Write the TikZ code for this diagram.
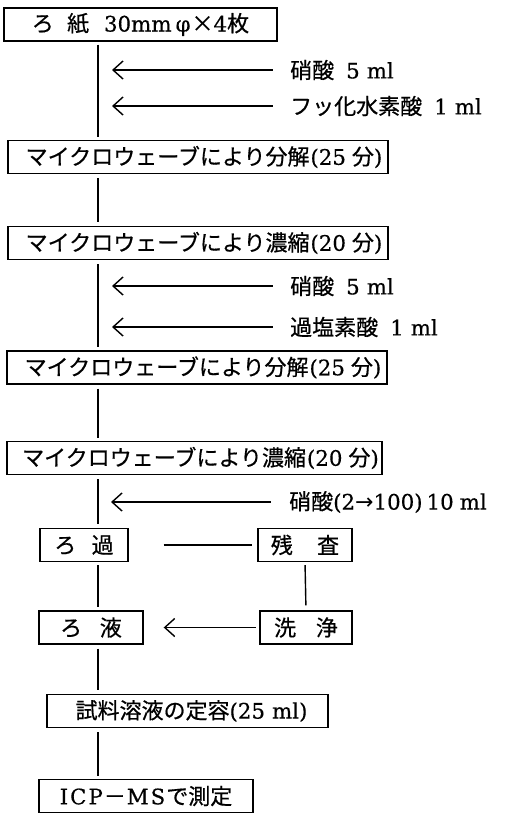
\documentclass[tikz,border=0pt]{standalone}
\usepackage{fontspec}
\setmainfont{DejaVu Serif}[Scale=0.97,FakeBold=0.4]
\newfontfamily\jp{Noto Sans CJK JP}[FakeBold=0.6]
\newfontfamily\dvs{DejaVu Sans}
\usetikzlibrary{arrows.meta}
\begin{document}
\begin{tikzpicture}[x=1pt,y=-1pt,
  box/.style={draw, line width=1.4pt, inner sep=0pt, minimum height=33pt, font=\fontsize{22}{22}\selectfont},
  lbl/.style={anchor=west, inner sep=0pt, font=\fontsize{22}{22}\selectfont},
  link/.style={line width=1.4pt},
  feed/.style={line width=1.4pt, {Straight Barb[length=10pt,width=18pt,line width=1.4pt]}-}]
\useasboundingbox (0,0) rectangle (507,814);
\coordinate (sp) at (98,0);
% boxes
\node[box, minimum width=273pt] (b1) at (140.5,24.5) {{\jp ろ\hspace{0.6em}紙}\hspace{0.7em}30mm\kern4pt φ\kern1pt{\jp ×}4{\jp 枚}};
\node[box, minimum width=380pt] (b2) at (198,157) {\kern12pt{\jp マイクロウェーブにより分解}\kern1pt(25\kern6pt{\jp 分})};
\node[box, minimum width=380pt] (b3) at (198,243) {\kern12pt{\jp マイクロウェーブにより濃縮}\kern1pt(20\kern6pt{\jp 分})};
\node[box, minimum width=380pt] (b4) at (197,367.5) {\kern12pt{\jp マイクロウェーブにより分解}\kern1pt(25\kern6pt{\jp 分})};
\node[box, minimum width=375pt] (b5) at (194.5,458) {\kern12pt{\jp マイクロウェーブにより濃縮}\kern1pt(20\kern6pt{\jp 分})};
\node[box, minimum width=88pt] (rk) at (84,545) {{\jp ろ\hspace{0.7em}過}};
\node[box, minimum width=94pt] (zs) at (305,545) {{\jp 残\hspace{1.1em}査}};
\node[box, minimum width=104pt] (re) at (91,627.5) {{\jp ろ\hspace{0.8em}液}};
\node[box, minimum width=92pt] (sj) at (306,627.5) {{\jp 洗\hspace{0.9em}浄}};
\node[box, minimum width=281pt] (tk) at (187.5,711) {\kern8pt{\jp 試料溶液の定容}(25\kern7pt ml)};
\node[box, minimum width=214pt] (icp) at (146,796) {I\kern2pt C\kern2pt P\kern1pt{\jp －}\kern1pt M\kern2pt S\kern1pt{\jp で測定}};
% spine
\draw[link, shorten <=3pt, shorten >=3pt] (b1.south -| sp) -- (b2.north -| sp);
\draw[link, shorten <=4pt, shorten >=4pt] (b2.south -| sp) -- (b3.north -| sp);
\draw[link, shorten <=4pt, shorten >=3pt] (b3.south -| sp) -- (b4.north -| sp);
\draw[link, shorten <=4pt, shorten >=3pt] (b4.south -| sp) -- (b5.north -| sp);
\draw[link, shorten <=4pt, shorten >=4pt] (b5.south -| sp) -- (rk.north -| sp);
\draw[link, shorten <=3pt, shorten >=3pt] (rk.south -| sp) -- (re.north -| sp);
\draw[link, shorten <=4pt, shorten >=4pt] (re.south -| sp) -- (tk.north -| sp);
\draw[link, shorten <=4pt, shorten >=3pt] (tk.south -| sp) -- (icp.north -| sp);
% side inputs
\node[lbl] (l1) at (290,70) {{\jp 硝酸}\kern12pt 5\kern7pt ml};
\node[lbl] (l2) at (290,106) {{\jp フッ化水素酸}\kern12pt 1\kern7pt ml};
\node[lbl] (l3) at (290,286) {{\jp 硝酸}\kern12pt 5\kern7pt ml};
\node[lbl] (l4) at (290,327) {{\jp 過塩素酸}\kern12pt 1\kern7pt ml};
\node[lbl] (l5) at (289,502) {{\jp 硝酸}(2{\dvs →}100)\kern4pt 10\kern6pt ml};
\coordinate (t1) at (112,70);
\coordinate (t2) at (112,106);
\coordinate (t3) at (112,286);
\coordinate (t4) at (112,327);
\coordinate (t5) at (111,502);
\draw[feed, shorten >=17pt] (t1) -- (l1.west);
\draw[feed, shorten >=17pt] (t2) -- (l2.west);
\draw[feed, shorten >=17pt] (t3) -- (l3.west);
\draw[feed, shorten >=17pt] (t4) -- (l4.west);
\draw[feed, shorten >=18pt] (t5) -- (l5.west);
% residue branch
\draw[link, shorten <=35pt, shorten >=5pt] (rk.east) -- (zs.west);
\draw[link, shorten <=3pt, shorten >=5pt] (zs.south) -- (sj.north);
\draw[feed, shorten <=20pt, shorten >=3pt] (re.east) -- (sj.west);
\end{tikzpicture}
\end{document}
